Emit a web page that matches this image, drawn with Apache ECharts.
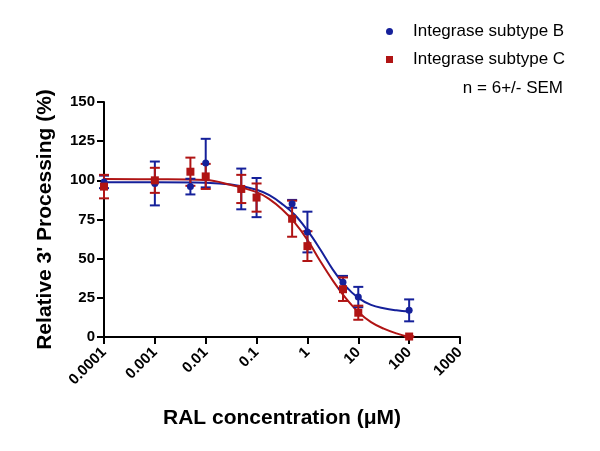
<!DOCTYPE html>
<html><head><meta charset="utf-8">
<script src="https://cdn.jsdelivr.net/npm/echarts@6/dist/echarts.min.js"></script>
<style>html,body{margin:0;padding:0;background:#fff}#c{width:600px;height:451px}</style>
</head><body><div id="c"></div>
<script>
// Concentrations (µM)
const conc = [0.0001, 0.001, 0.005, 0.01, 0.05, 0.1, 0.5, 1, 5, 10, 100];
// Subtype B mean and SEM
const meanB = [99, 98, 96, 111, 94.5, 89, 85, 67, 35, 25.5, 17];
const semB  = [4, 14, 5, 15.5, 13, 12.5, 2.5, 13, 4, 6.5, 7];
// Subtype C mean and SEM
const meanC = [96, 100, 105.5, 102.5, 94.5, 89, 75.5, 58, 30.5, 15.5, 0.3];
const semC  = [7.5, 8, 9, 8, 9, 9, 11.5, 9.5, 7.5, 4.5, 0];
// Fitted curves
const curveX = [0.0001, 0.001, 0.01, 0.0316, 0.1, 0.178, 0.316, 0.562, 1, 1.78, 3.16, 5.62, 10, 17.8, 31.6, 56.2, 100];
const curveB = [98.8, 98.8, 98.5, 97.3, 94, 90.5, 85, 78, 68, 56, 43, 32.5, 25, 20.5, 18.3, 17, 16.2];
const curveC = [100.8, 100.7, 100.2, 97, 92.5, 88, 81.5, 73, 62, 48.5, 36, 25, 16, 9.5, 5.3, 2.3, 0];
const xTicks = ['0.0001', '0.001', '0.01', '0.1', '1', '10', '100', '1000'];
const yTicks = [0, 25, 50, 75, 100, 125, 150];

const BLUE = '#15209a', RED = '#b01414';
const FONT = 'Liberation Sans, Arial, sans-serif';
const zip = (xs, ys) => xs.map((x, i) => [x, ys[i]]);
const errData = (m, s) => conc.map((x, i) => [x, m[i] - s[i], m[i] + s[i]]);

function errRender(color) {
  return function (params, api) {
    const x = api.value(0);
    const lo = api.coord([x, api.value(1)]);
    const hi = api.coord([x, api.value(2)]);
    const w = 5;
    const style = { stroke: color, lineWidth: 2, fill: null };
    return { type: 'group', children: [
      { type: 'line', shape: { x1: lo[0], y1: lo[1], x2: hi[0], y2: hi[1] }, style },
      { type: 'line', shape: { x1: lo[0] - w, y1: lo[1], x2: lo[0] + w, y2: lo[1] }, style },
      { type: 'line', shape: { x1: hi[0] - w, y1: hi[1], x2: hi[0] + w, y2: hi[1] }, style }
    ]};
  };
}

const chart = echarts.init(document.getElementById('c'));
chart.setOption({
  animation: false,
  textStyle: { fontFamily: FONT },
  grid: { left: 104, right: 140, top: 102, bottom: 114 },
  legend: {
    orient: 'vertical', left: 381, top: 18, itemGap: 11, itemWidth: 7, itemHeight: 7,
    textStyle: { fontSize: 17, color: '#000', padding: [0, 0, 0, 15], fontFamily: FONT },
    data: ['Integrase subtype B', 'Integrase subtype C']
  },
  graphic: [{ type: 'text', right: 37, top: 80, style: { text: 'n = 6+/- SEM', fontSize: 17, fill: '#000', fontFamily: FONT } }],
  xAxis: {
    type: 'log', logBase: 10, min: 0.0001, max: 1000,
    name: 'RAL concentration (\u03bcM)', nameLocation: 'middle', nameGap: 71,
    nameTextStyle: { fontSize: 21, fontWeight: 'bold', color: '#000', fontFamily: FONT },
    axisLine: { lineStyle: { color: '#000', width: 2 } },
    axisTick: { lineStyle: { color: '#000', width: 2 }, length: 7 },
    minorTick: { show: false }, splitLine: { show: false },
    axisLabel: { rotate: 45, fontSize: 15, fontWeight: 'bold', color: '#000', margin: 13,
      formatter: v => xTicks[Math.round(Math.log10(v)) + 4] }
  },
  yAxis: {
    type: 'value', min: 0, max: 150, interval: 25,
    name: "Relative 3' Processing (%)", nameLocation: 'middle', nameGap: 48,
    nameTextStyle: { fontSize: 21, fontWeight: 'bold', color: '#000', fontFamily: FONT },
    axisLine: { show: true, lineStyle: { color: '#000', width: 2 } },
    axisTick: { show: true, lineStyle: { color: '#000', width: 2 }, length: 7 },
    splitLine: { show: false },
    axisLabel: { fontSize: 15, fontWeight: 'bold', color: '#000', margin: 9,
      formatter: v => yTicks.includes(v) ? String(v) : '' }
  },
  series: [
    { name: 'curveB', type: 'line', data: zip(curveX, curveB), smooth: 0.4, showSymbol: false, lineStyle: { color: BLUE, width: 2 }, z: 2 },
    { name: 'curveC', type: 'line', data: zip(curveX, curveC), smooth: 0.4, showSymbol: false, lineStyle: { color: RED, width: 2 }, z: 2 },
    { type: 'custom', data: errData(meanB, semB), renderItem: errRender(BLUE), z: 3 },
    { type: 'custom', data: errData(meanC, semC), renderItem: errRender(RED), z: 3 },
    { name: 'Integrase subtype B', type: 'scatter', data: zip(conc, meanB), symbol: 'circle', symbolSize: 7, itemStyle: { color: BLUE, opacity: 1 }, z: 4 },
    { name: 'Integrase subtype C', type: 'scatter', data: zip(conc, meanC), symbol: 'rect', symbolSize: 8, itemStyle: { color: RED, opacity: 1 }, z: 5 }
  ]
});
</script></body></html>
